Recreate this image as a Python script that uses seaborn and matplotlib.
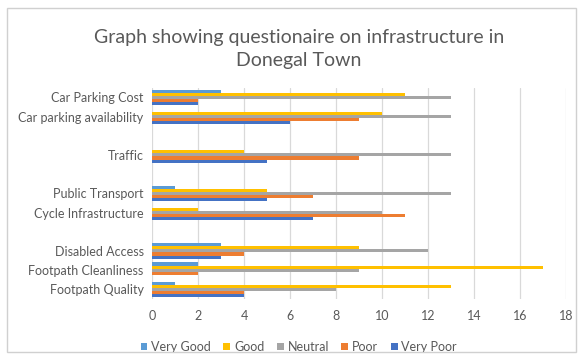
import matplotlib
matplotlib.use("Agg")
import matplotlib.pyplot as plt
from matplotlib.patches import Rectangle
import seaborn as sns
import pandas as pd

categories = ["Car Parking Cost", "Car parking availability", "Traffic",
              "Public Transport", "Cycle Infrastructure", "Disabled Access",
              "Footpath Cleanliness", "Footpath Quality"]
very_good = [3, 0, 0, 1, 0, 3, 2, 1]
good = [11, 10, 4, 5, 2, 9, 17, 13]
neutral = [13, 13, 13, 13, 10, 12, 9, 8]
poor = [2, 9, 9, 7, 11, 4, 2, 4]
very_poor = [2, 6, 5, 5, 7, 3, 0, 4]
ratings = ["Very Good", "Good", "Neutral", "Poor", "Very Poor"]
x_ticks = [0, 2, 4, 6, 8, 10, 12, 14, 16, 18]

# category slots on the y axis, with empty spacer rows between groups
order = ["Car Parking Cost", "Car parking availability", " ", "Traffic", "  ",
         "Public Transport", "Cycle Infrastructure", "   ",
         "Disabled Access", "Footpath Cleanliness", "Footpath Quality"]

series = dict(zip(ratings, [very_good, good, neutral, poor, very_poor]))
rows = []
for r in ratings:
    for c, v in zip(categories, series[r]):
        rows.append({"category": c, "rating": r, "value": v})
df = pd.DataFrame(rows)

colors = ["#5B9BD5", "#FFC000", "#A5A5A5", "#ED7D31", "#4472C4"]

sns.set_style("white")
plt.rcParams["font.family"] = ["Lato", "DejaVu Sans"]

fig = plt.figure(figsize=(5.8, 3.61), dpi=100)
ax = fig.add_axes([0.262, 0.172, 0.714, 0.585])

sns.barplot(data=df, x="value", y="category", hue="rating", order=order,
            hue_order=ratings, palette=colors, orient="h", width=0.8,
            saturation=1, ax=ax, errorbar=None, zorder=3, linewidth=0)

ax.set_xlim(0, 18)
ax.set_xticks(x_ticks)
ax.set_xlabel("")
ax.set_ylabel("")
ax.grid(axis="x", color="#D9D9D9", linewidth=0.9, zorder=0)
ax.set_axisbelow(True)
for s in ax.spines.values():
    s.set_visible(False)
ax.tick_params(axis="both", length=0, colors="#595959", labelsize=9)
ax.tick_params(axis="x", pad=8)
ax.tick_params(axis="y", pad=6)

ax.legend(loc="center", bbox_to_anchor=(0.515, 1 - 347 / 361), ncol=5,
          bbox_transform=fig.transFigure,
          frameon=False, fontsize=9, handlelength=0.55, handleheight=0.55,
          handletextpad=0.3, columnspacing=1.0, labelcolor="#595959")

fig.text(0.515, 1 - 49 / 361, "Graph showing questionaire on infrastructure in\nDonegal Town",
         ha="center", va="center", fontsize=14, color="#595959", linespacing=1.38)

fig.patches.append(Rectangle((7 / 580, 1 - 352 / 361), 569 / 580, 344 / 361,
                             transform=fig.transFigure, fill=False,
                             edgecolor="#D0D0D0", linewidth=1.0))

fig.savefig("out.png", dpi=100)
